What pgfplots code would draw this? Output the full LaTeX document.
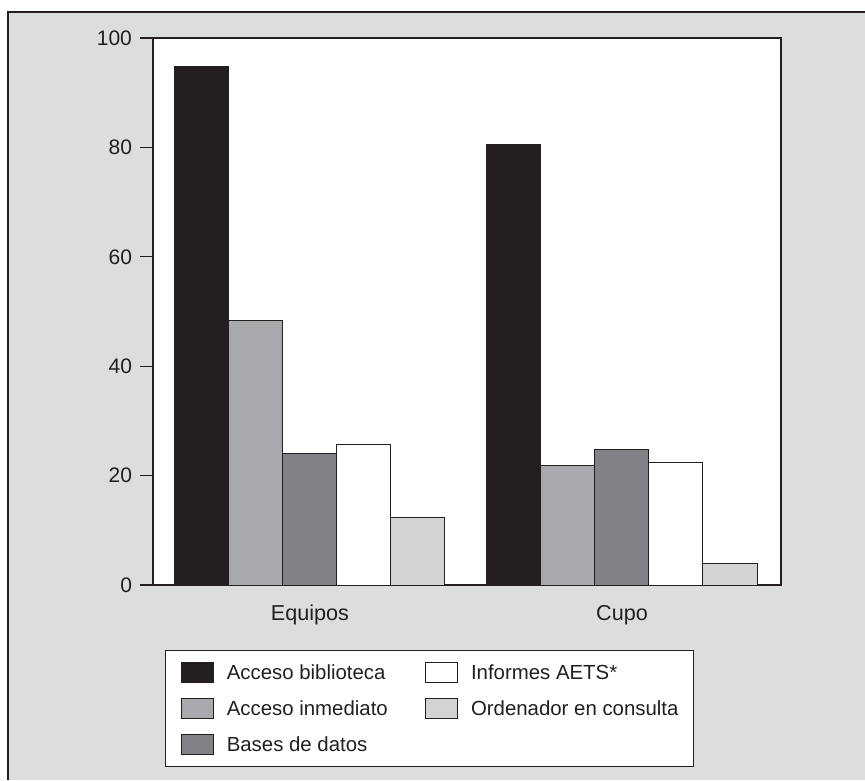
\documentclass[border=0pt]{standalone}
\usepackage{fontspec}
\setmainfont{Liberation Sans}
\usepackage{pgfplots}
\pgfplotsset{compat=1.18}
\definecolor{bg}{HTML}{DCDDDE}
\definecolor{cblack}{HTML}{231F20}
\definecolor{cgray}{HTML}{A7A9AC}
\definecolor{cdark}{HTML}{808285}
\definecolor{clight}{HTML}{D1D3D4}
\begin{document}
\begin{tikzpicture}
\path[use as bounding box] (0pt,0pt) rectangle (432.5pt,-390pt);
\fill[bg] (4pt,-6pt) rectangle (432.5pt,-390pt);
\draw[line width=0.6pt, cblack] (4pt,-390pt) -- (4pt,-6pt) -- (432.5pt,-6pt);
\begin{axis}[
  at={(76.5pt,-292.5pt)}, anchor=south west,
  scale only axis, width=314pt, height=273.5pt,
  xmin=-0.503, xmax=1.5096, ymin=0, ymax=100,
  axis background/.style={fill=white},
  axis line style={line width=0.6pt, cblack},
  ytick={0,20,...,100}, ytick pos=left, tick align=outside,
  major tick length=6.5pt,
  xtick={0,1}, xticklabels={Equipos,Cupo},
  x tick style={draw=none},
  y tick style={line width=0.6pt, cblack},
  tick label style={font=\fontsize{10.5}{12}\selectfont, text=cblack},
  yticklabel style={xshift=-0.5pt},
  xticklabel style={font=\fontsize{10.8}{12}\selectfont},
  /pgf/number format/assume math mode=true,
  ybar, bar width=27pt,
  every axis plot/.append style={draw=cblack, line width=0.5pt},
  every axis plot post/.append style={legend image code/.code={\draw[##1, line width=0.6pt] (0pt,-5pt) rectangle (16pt,5pt);}},
  legend columns=2,
  legend cell align=left,
  legend style={
    at={(0.0191,-0.1188)}, anchor=north west,
    draw=cblack, line width=0.6pt, fill=white,
    inner xsep=7.5pt, inner ysep=5.5pt,
    font=\fontsize{10.2}{12}\selectfont,
    row sep=7.5pt,
    nodes={inner sep=0pt, text height=7.3pt, text depth=0pt, anchor=west, text=cblack},
    /tikz/every odd column/.append style={column sep=6.5pt},
    /tikz/every even column/.append style={column sep=18.5pt},
  },
]
\addplot[fill=cblack, bar shift=-54pt] coordinates {(0,94.7) (1,80.6)};
\addlegendentry{Acceso biblioteca}
\addplot[fill=white, bar shift=27pt] coordinates {(0,25.7) (1,22.4)};
\addlegendentry{Informes AETS*}
\addplot[fill=cgray, bar shift=-27pt] coordinates {(0,48.4) (1,21.9)};
\addlegendentry{Acceso inmediato}
\addplot[fill=clight, bar shift=54pt] coordinates {(0,12.3) (1,3.9)};
\addlegendentry{Ordenador en consulta\hspace{3pt}}
\addplot[fill=cdark, bar shift=0pt] coordinates {(0,24.1) (1,24.8)};
\addlegendentry{Bases de datos}
\end{axis}
\end{tikzpicture}
\end{document}
